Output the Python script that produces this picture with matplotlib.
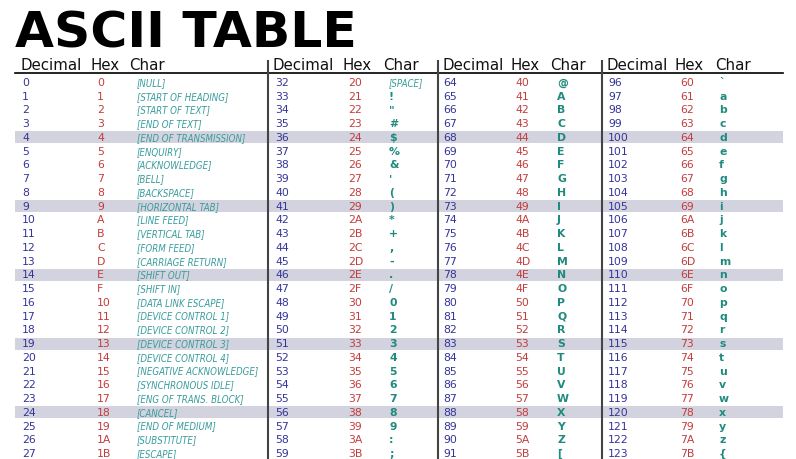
import matplotlib
matplotlib.use("Agg")
import matplotlib.pyplot as plt
from matplotlib import font_manager

# ---------------- data ----------------
dec_g0 = [0, 1, 2, 3, 4, 5, 6, 7, 8, 9, 10, 11, 12, 13, 14, 15, 16, 17, 18, 19, 20, 21, 22, 23, 24, 25, 26, 27]
hex_g0 = ["0", "1", "2", "3", "4", "5", "6", "7", "8", "9", "A", "B", "C", "D", "E", "F",
          "10", "11", "12", "13", "14", "15", "16", "17", "18", "19", "1A", "1B"]
chr_g0 = ["[NULL]", "[START OF HEADING]", "[START OF TEXT]", "[END OF TEXT]", "[END OF TRANSMISSION]",
          "[ENQUIRY]", "[ACKNOWLEDGE]", "[BELL]", "[BACKSPACE]", "[HORIZONTAL TAB]", "[LINE FEED]",
          "[VERTICAL TAB]", "[FORM FEED]", "[CARRIAGE RETURN]", "[SHIFT OUT]", "[SHIFT IN]",
          "[DATA LINK ESCAPE]", "[DEVICE CONTROL 1]", "[DEVICE CONTROL 2]", "[DEVICE CONTROL 3]",
          "[DEVICE CONTROL 4]", "[NEGATIVE ACKNOWLEDGE]", "[SYNCHRONOUS IDLE]", "[ENG OF TRANS. BLOCK]",
          "[CANCEL]", "[END OF MEDIUM]", "[SUBSTITUTE]", "[ESCAPE]"]

dec_g1 = [32, 33, 34, 35, 36, 37, 38, 39, 40, 41, 42, 43, 44, 45, 46, 47, 48, 49, 50, 51, 52, 53, 54, 55, 56, 57, 58, 59]
hex_g1 = ["20", "21", "22", "23", "24", "25", "26", "27", "28", "29", "2A", "2B", "2C", "2D", "2E", "2F",
          "30", "31", "32", "33", "34", "35", "36", "37", "38", "39", "3A", "3B"]
chr_g1 = ["[SPACE]", "!", "\"", "#", "$", "%", "&", "'", "(", ")", "*", "+", ",", "-", ".", "/",
          "0", "1", "2", "3", "4", "5", "6", "7", "8", "9", ":", ";"]

dec_g2 = [64, 65, 66, 67, 68, 69, 70, 71, 72, 73, 74, 75, 76, 77, 78, 79, 80, 81, 82, 83, 84, 85, 86, 87, 88, 89, 90, 91]
hex_g2 = ["40", "41", "42", "43", "44", "45", "46", "47", "48", "49", "4A", "4B", "4C", "4D", "4E", "4F",
          "50", "51", "52", "53", "54", "55", "56", "57", "58", "59", "5A", "5B"]
chr_g2 = ["@", "A", "B", "C", "D", "E", "F", "G", "H", "I", "J", "K", "L", "M", "N", "O",
          "P", "Q", "R", "S", "T", "U", "V", "W", "X", "Y", "Z", "["]

dec_g3 = [96, 97, 98, 99, 100, 101, 102, 103, 104, 105, 106, 107, 108, 109, 110, 111,
          112, 113, 114, 115, 116, 117, 118, 119, 120, 121, 122, 123]
hex_g3 = ["60", "61", "62", "63", "64", "65", "66", "67", "68", "69", "6A", "6B", "6C", "6D", "6E", "6F",
          "70", "71", "72", "73", "74", "75", "76", "77", "78", "79", "7A", "7B"]
chr_g3 = ["`", "a", "b", "c", "d", "e", "f", "g", "h", "i", "j", "k", "l", "m", "n", "o",
          "p", "q", "r", "s", "t", "u", "v", "w", "x", "y", "z", "{"]

header_labels = ["Decimal", "Hex", "Char"]
highlight_rows = [4, 9, 14, 19, 24]
title_text = "ASCII TABLE"

# ---------------- styling ----------------
groups = [(dec_g0, hex_g0, chr_g0), (dec_g1, hex_g1, chr_g1),
          (dec_g2, hex_g2, chr_g2), (dec_g3, hex_g3, chr_g3)]
group_data_x = [(22, 97, 137), (275, 348, 389), (443, 515, 557), (608, 680, 719)]
group_head_x = [(21, 91, 129), (273, 342, 383), (442, 510, 550), (607, 675, 715)]
sep_x = [268, 438, 602]

DEC_COL = "#34349a"
HEX_COL = "#c43c3c"
CHR_COL = "#1f8a7e"
CTRL_COL = "#389c9c"
BAND_COL = "#d3d3df"

fl = font_manager.fontManager.ttflist
names = {f.name for f in fl}
cond_ok = any(f.name == "DejaVu Sans" and f.stretch == "condensed" and f.style in ("oblique", "italic")
              for f in fl)
if "Liberation Sans Narrow" in names:
    ctrl_kw = dict(family=["Liberation Sans Narrow", "DejaVu Sans"], fontsize=7.6)
elif cond_ok:
    ctrl_kw = dict(family=["DejaVu Sans"], fontsize=6.9, fontstretch="condensed")
else:
    ctrl_kw = dict(family=["DejaVu Sans"], fontsize=6.3)

W, H = 796, 459
fig = plt.figure(figsize=(W / 100, H / 100), dpi=100)
ax = fig.add_axes([0, 0, 1, 1])
ax.set_xlim(0, W)
ax.set_ylim(H, 0)
ax.axis("off")

base0 = 86.0
pitch = 13.74

def row_y(i):
    return base0 + i * pitch

# title
ax.text(15, 47, title_text, fontsize=36.3, fontweight="bold", color="black",
        family="DejaVu Sans", va="baseline", ha="left")

# highlight bands
for r in highlight_rows:
    y = row_y(r)
    ax.axhspan(y - 9.5, y + 2.5, xmin=15 / W, xmax=783 / W, color=BAND_COL, lw=0, zorder=0)

# header
for hx in group_head_x:
    for x, lab in zip(hx, header_labels):
        ax.text(x, 70, lab, fontsize=10.8, color="#111111", family="DejaVu Sans",
                fontweight="normal", va="baseline", ha="left")
ax.plot([15, 783], [72.5, 72.5], color="black", lw=1.2, zorder=3)
for sx in sep_x:
    ax.plot([sx, sx], [61, H], color="#444444", lw=1.5, zorder=3)

# rows
for gi, ((decs, hexs, chrs), (xd, xh, xc)) in enumerate(zip(groups, group_data_x)):
    for i, (d, h, c) in enumerate(zip(decs, hexs, chrs)):
        y = row_y(i)
        ax.text(xd, y, str(d), fontsize=7.8, color=DEC_COL, family="DejaVu Sans",
                va="baseline", ha="left", parse_math=False, zorder=2)
        ax.text(xh, y, h, fontsize=7.8, color=HEX_COL, family="DejaVu Sans",
                va="baseline", ha="left", parse_math=False, zorder=2)
        if c.startswith("[") and len(c) > 1:
            ax.text(xc, y, c, color=CTRL_COL, style="italic", va="baseline", ha="left",
                    parse_math=False, zorder=2, **ctrl_kw)
        else:
            ax.text(xc, y, c, fontsize=7.8, color=CHR_COL, family="DejaVu Sans",
                    fontweight="bold", va="baseline", ha="left", parse_math=False, zorder=2)

fig.savefig("out.png", dpi=100, facecolor="white")
